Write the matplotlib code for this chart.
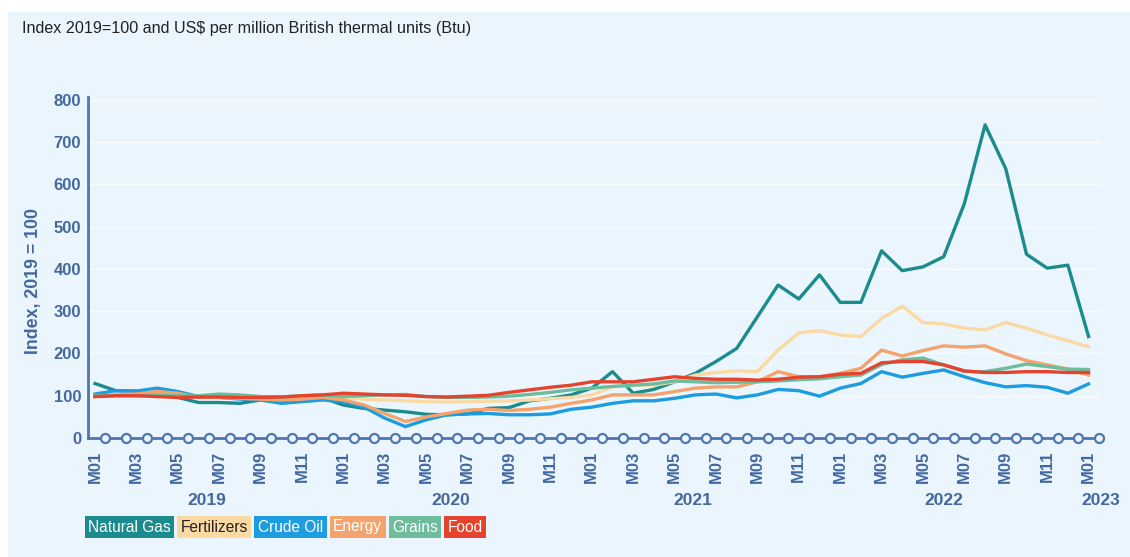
import matplotlib
matplotlib.use("Agg")
import matplotlib.pyplot as plt
import matplotlib.transforms as mtransforms
from matplotlib.patches import Rectangle

plt.rcParams['font.family'] = ['Liberation Sans', 'DejaVu Sans']

# ---------------- data (monthly, 2019 M01 .. 2023 M01) ----------------
natural_gas = [129, 112, 111, 102, 96, 84, 84, 82, 90, 86, 97, 95,
               78, 70, 66, 62, 56, 55, 57, 70, 72, 88, 94, 102,
               118, 157, 106, 115, 133, 153, 181, 212, 287, 362, 329, 386,
               321, 321, 443, 396, 405, 429, 555, 741, 637, 435, 402, 409,
               240]
fertilizers = [100, 102, 103, 104, 102, 100, 98, 97, 95, 95, 96, 96,
               95, 92, 90, 88, 86, 85, 86, 87, 88, 90, 93, 96,
               102, 121, 125, 125, 133, 149, 155, 159, 157, 208, 249, 254,
               244, 240, 283, 312, 273, 270, 260, 256, 273, 260, 244, 230,
               216]
crude_oil = [104, 112, 111, 118, 110, 98, 96, 92, 90, 82, 86, 90,
             86, 73, 47, 27, 43, 55, 57, 58, 55, 55, 57, 68,
             73, 82, 88, 88, 94, 102, 104, 95, 102, 115, 112, 99,
             118, 129, 157, 144, 153, 161, 145, 131, 121, 124, 120, 106,
             128]
energy = [98, 102, 104, 110, 106, 96, 96, 94, 92, 90, 92, 96,
          90, 78, 58, 39, 50, 58, 66, 68, 65, 68, 73, 82,
          90, 102, 102, 102, 110, 118, 121, 121, 133, 157, 145, 145,
          153, 165, 208, 194, 207, 218, 215, 218, 199, 183, 173, 163,
          149]
grains = [100, 100, 100, 102, 100, 100, 104, 102, 98, 97, 100, 102,
          98, 100, 102, 103, 98, 96, 96, 97, 99, 103, 108, 114,
          118, 122, 125, 128, 135, 133, 131, 132, 133, 135, 138, 140,
          145, 149, 174, 185, 189, 173, 157, 157, 165, 175, 169, 163,
          162]
food = [98, 100, 100, 98, 96, 97, 97, 96, 96, 97, 100, 102,
        106, 104, 102, 101, 98, 97, 99, 101, 108, 114, 120, 125,
        133, 133, 133, 139, 145, 141, 139, 139, 137, 139, 144, 145,
        151, 153, 178, 181, 181, 173, 159, 155, 155, 157, 157, 155,
        155]

series_names = ["Natural Gas", "Fertilizers", "Crude Oil", "Energy", "Grains", "Food"]
series_values = [natural_gas, fertilizers, crude_oil, energy, grains, food]
series_colors = ["#1b8b8e", "#fbd9a3", "#1e9ce0", "#f5a36c", "#6dbd9d", "#e5432d"]
legend_text_colors = ["white", "#222222", "white", "white", "white", "white"]

month_tick_labels = ["M01", "M03", "M05", "M07", "M09", "M11"] * 4 + ["M01"]
year_labels = ["2019", "2020", "2021", "2022", "2023"]
year_label_pos = [5.4, 17.2, 28.9, 41.0, 48.6]

y_ticks = [0, 100, 200, 300, 400, 500, 600, 700, 800]

# ---------------- figure ----------------
W, H = 1130, 557
BG = "#eaf5fd"
AXC = "#4f76ad"
TXT = "#43689f"

fig = plt.figure(figsize=(W / 100, H / 100), dpi=100)
fig.patch.set_facecolor("white")
fig.patches.append(Rectangle((8 / W, 0), 1, (H - 12) / H, transform=fig.transFigure,
                             facecolor=BG, edgecolor="none", zorder=-10))

left, right, bottom, top = 88, 1101, 438, 97
ax = fig.add_axes([left / W, (H - bottom) / H, (right - left) / W, (bottom - top) / H])
ax.set_facecolor("none")
ax.set_zorder(1)

n = len(natural_gas)
x = list(range(n))
for vals, col in zip(series_values, series_colors):
    ax.plot(x, vals, color=col, lw=2.4, solid_joinstyle="round", zorder=3)

ax.set_xlim(-0.34, 48.6)
ax.set_ylim(0, 807)

# y axis
ax.set_yticks(y_ticks)
ax.set_yticklabels([str(v) for v in y_ticks])
ax.tick_params(axis="y", length=0, pad=5, labelsize=12, labelcolor=TXT)
for lab in ax.get_yticklabels():
    lab.set_fontweight("bold")
ax.grid(axis="y", color="white", lw=1.0, alpha=0.8, zorder=1)

# x axis
ax.set_xticks(list(range(0, n, 2)))
ax.set_xticklabels(month_tick_labels, rotation=90, fontweight="bold")
ax.tick_params(axis="x", length=0, pad=9, labelsize=12, labelcolor=TXT)

for s in ["top", "right"]:
    ax.spines[s].set_visible(False)
ax.spines["left"].set_color(AXC)
ax.spines["left"].set_linewidth(2)
ax.spines["bottom"].set_color(AXC)
ax.spines["bottom"].set_linewidth(2)

# circle markers along the x axis
cx = [i + 0.5 for i in range(n)]
ax.plot(cx, [0] * n, "o", ms=6.5, mfc=BG, mec=AXC, mew=1.6, clip_on=False, zorder=6)

# year labels
trans = mtransforms.blended_transform_factory(ax.transData, ax.transAxes)
for xp, yl in zip(year_label_pos, year_labels):
    ax.text(xp, -0.182, yl, transform=trans, ha="center", va="center",
            fontsize=12.5, fontweight="bold", color=TXT)

# y label
ax.set_ylabel("Index, 2019 = 100", fontsize=12.8, fontweight="bold", color=TXT)
ax.yaxis.set_label_coords(-0.045, 0.46)

# title
fig.text(22 / W, 1 - 28 / H, "Index 2019=100 and US$ per million British thermal units (Btu)",
         ha="left", va="center", fontsize=11.6, color="#222222")

# legend boxes
renderer = fig.canvas.get_renderer()
xpos = 88
for name, col, tcol in zip(series_names, series_colors, legend_text_colors):
    t = fig.text(xpos / W, 1 - 527 / H, name, ha="left", va="center", fontsize=11.2,
                 color=tcol, bbox=dict(boxstyle="square,pad=0.22", facecolor=col,
                                       edgecolor="none"))
    bb = t.get_window_extent(renderer)
    xpos += bb.width + 10

fig.savefig("out.png", dpi=100)
